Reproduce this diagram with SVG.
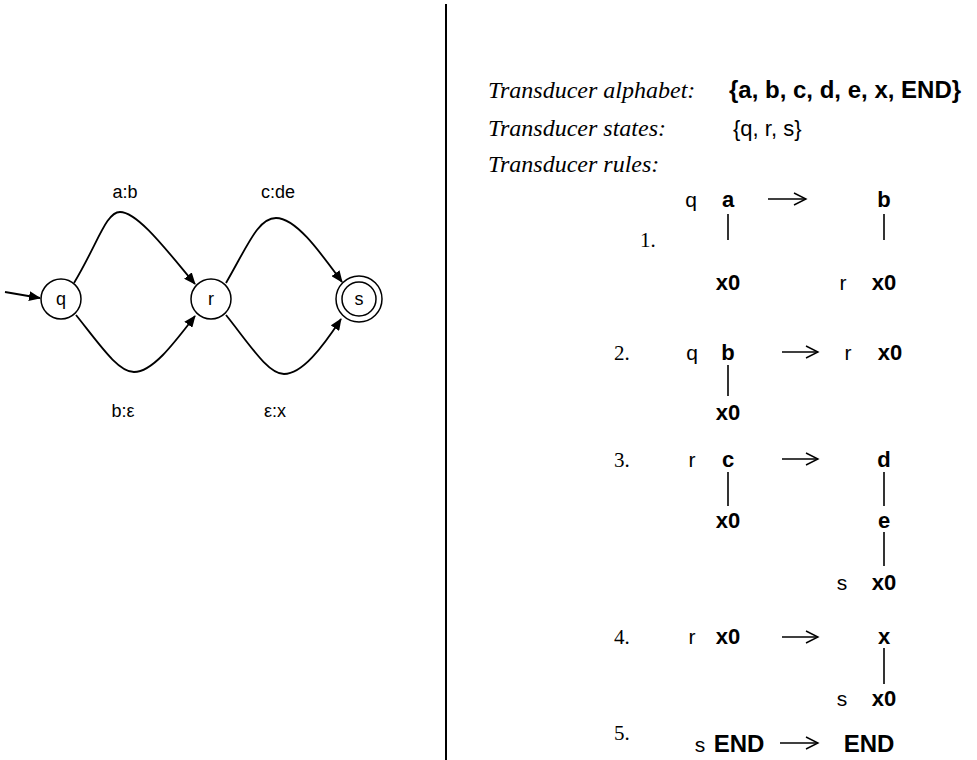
<svg xmlns="http://www.w3.org/2000/svg" width="977" height="760" viewBox="0 0 977 760">
<defs>
<marker id="ah" markerWidth="12" markerHeight="10" refX="11" refY="5" orient="auto" markerUnits="userSpaceOnUse">
<path d="M0,0 L12,5 L0,10 Z" fill="#000"/>
</marker>
<style>
.st{font-family:"Liberation Sans",Arial,sans-serif;font-size:22px;fill:#000}
.lb{font-family:"Liberation Sans",Arial,sans-serif;font-size:18px;fill:#000;text-anchor:middle}
.it{font-family:"Liberation Serif","Times New Roman",serif;font-style:italic;font-size:24px;fill:#000}
.num{font-family:"Liberation Serif","Times New Roman",serif;font-size:21px;fill:#000}
.hb{font-family:"Liberation Sans",Arial,sans-serif;font-weight:bold;font-size:24px;fill:#000}
.b{font-family:"Liberation Sans",Arial,sans-serif;font-weight:bold;font-size:22px;fill:#000;text-anchor:middle}
.r{font-family:"Liberation Sans",Arial,sans-serif;font-size:21px;fill:#000;text-anchor:middle}
.node{fill:#fff;stroke:#000;stroke-width:1.5}
.edge{fill:none;stroke:#000;stroke-width:1.8}
.tl{stroke:#000;stroke-width:1.6}
.arr{fill:none;stroke:#000;stroke-width:1.4}
</style>
</defs>
<rect width="977" height="760" fill="#fff"/>
<line x1="446" y1="4" x2="446" y2="760" stroke="#000" stroke-width="2"/>

<g id="connectors">
<line class="edge" x1="5" y1="292" x2="40" y2="298" marker-end="url(#ah)"/>
<path class="edge" d="M74,283 C98,243 106,212 120,212 C138,212 168,252 195,284" marker-end="url(#ah)"/>
<path class="edge" d="M226,283 C248,245 258,218 276,218 C296,218 320,252 342,282" marker-end="url(#ah)"/>
<path class="edge" d="M76,315 C100,345 118,372 134,372 C152,372 172,346 195,316" marker-end="url(#ah)"/>
<path class="edge" d="M226,315 C250,345 268,374 284,374 C302,374 322,348 341,319" marker-end="url(#ah)"/>
<text class="lb" x="125" y="198">a:b</text>
<text class="lb" x="278" y="198">c:de</text>
<text class="lb" x="123" y="417">b:ε</text>
<text class="lb" x="275" y="417">ε:x</text>
</g>

<g id="q"><circle class="node" cx="61" cy="299" r="20"/><text class="lb" x="61" y="305">q</text></g>
<g id="r"><circle class="node" cx="211" cy="299" r="20"/><text class="lb" x="211" y="305">r</text></g>
<g id="s"><circle class="node" cx="359" cy="299" r="23"/><circle class="node" cx="359" cy="299" r="17"/><text class="lb" x="359" y="305">s</text></g>

<g id="info">
<text class="it" x="488" y="98">Transducer alphabet:</text>
<text class="hb" x="729" y="98">{a, b, c, d, e, x, END}</text>
<text class="it" x="488" y="136">Transducer states:</text>
<text class="st" x="733" y="136">{q, r, s}</text>
<text class="it" x="488" y="172">Transducer rules:</text>
</g>

<g id="rules">
<!-- rule 1 -->
<text class="num" x="640" y="247">1.</text>
<text class="r" x="691" y="207">q</text>
<text class="b" x="728" y="207">a</text>
<line class="tl" x1="728" y1="214" x2="728" y2="240"/>
<text class="b" x="728" y="290">x0</text>
<g class="arr"><line x1="768" y1="199" x2="806" y2="199"/><polyline points="794,193 806,199 794,205"/></g>
<text class="b" x="884" y="207">b</text>
<line class="tl" x1="884" y1="214" x2="884" y2="240"/>
<text class="r" x="843" y="290">r</text>
<text class="b" x="884" y="290">x0</text>
<!-- rule 2 -->
<text class="num" x="614" y="360">2.</text>
<text class="r" x="692" y="360">q</text>
<text class="b" x="728" y="360">b</text>
<line class="tl" x1="728" y1="365" x2="728" y2="396"/>
<text class="b" x="728" y="420">x0</text>
<g class="arr"><line x1="782" y1="352" x2="818" y2="352"/><polyline points="806,346 818,352 806,358"/></g>
<text class="r" x="848" y="360">r</text>
<text class="b" x="890" y="360">x0</text>
<!-- rule 3 -->
<text class="num" x="614" y="467">3.</text>
<text class="r" x="692" y="467">r</text>
<text class="b" x="728" y="467">c</text>
<line class="tl" x1="728" y1="472" x2="728" y2="506"/>
<text class="b" x="728" y="528">x0</text>
<g class="arr"><line x1="782" y1="459" x2="818" y2="459"/><polyline points="806,453 818,459 806,465"/></g>
<text class="b" x="884" y="467">d</text>
<line class="tl" x1="884" y1="472" x2="884" y2="506"/>
<text class="b" x="884" y="528">e</text>
<line class="tl" x1="884" y1="532" x2="884" y2="566"/>
<text class="r" x="842" y="590">s</text>
<text class="b" x="884" y="590">x0</text>
<!-- rule 4 -->
<text class="num" x="614" y="644">4.</text>
<text class="r" x="692" y="644">r</text>
<text class="b" x="728" y="644">x0</text>
<g class="arr"><line x1="782" y1="637" x2="818" y2="637"/><polyline points="806,631 818,637 806,643"/></g>
<text class="b" x="884" y="644">x</text>
<line class="tl" x1="884" y1="648" x2="884" y2="684"/>
<text class="r" x="842" y="706">s</text>
<text class="b" x="884" y="706">x0</text>
<!-- rule 5 -->
<text class="num" x="614" y="740">5.</text>
<text class="r" x="700" y="752">s</text>
<text class="b" x="739" y="752" style="font-size:24px">END</text>
<g class="arr"><line x1="780" y1="743" x2="818" y2="743"/><polyline points="806,737 818,743 806,749"/></g>
<text class="b" x="869" y="752" style="font-size:24px">END</text>
</g>
</svg>
